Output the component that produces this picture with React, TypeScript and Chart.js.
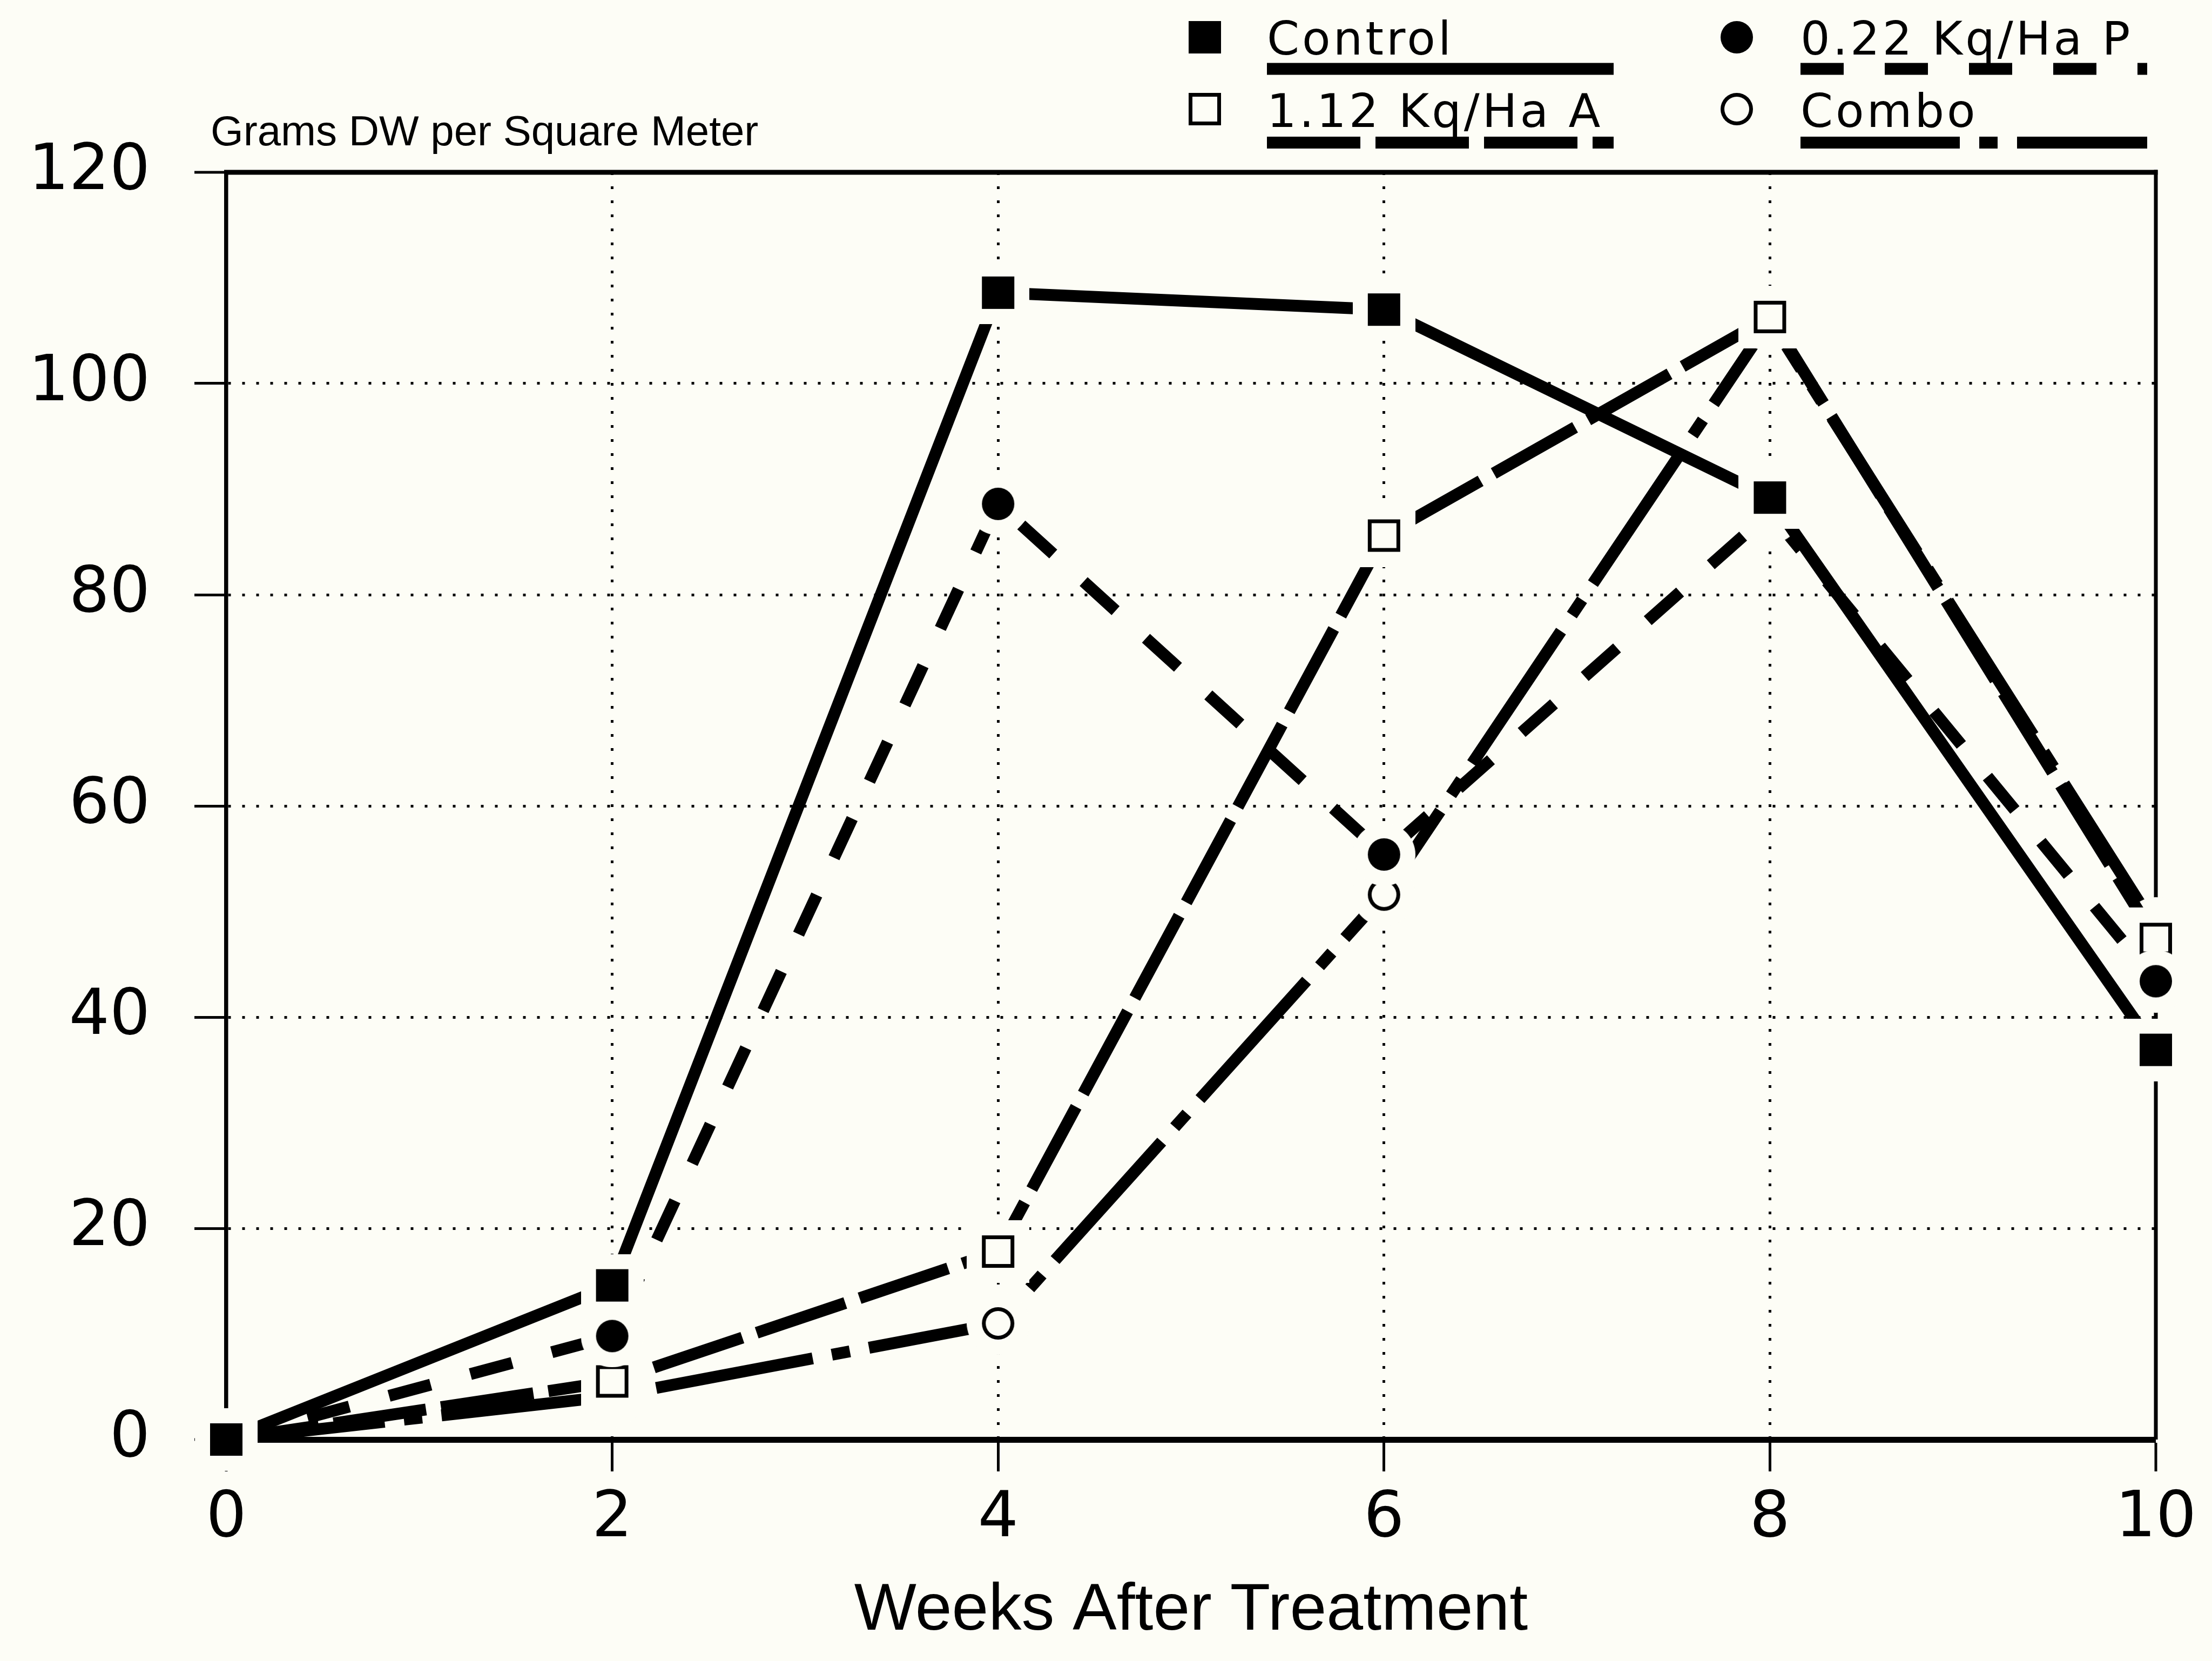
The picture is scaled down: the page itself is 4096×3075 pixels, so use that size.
import { useEffect, useRef } from 'react';
import { Chart, registerables } from 'chart.js';

Chart.register(...registerables);

// ---- data -------------------------------------------------------------
const weeks = [0, 2, 4, 6, 8, 10];
const controlValues = [0, 14.6, 108.6, 107.0, 89.2, 36.9];
const rateP022Values = [0, 9.8, 88.6, 55.4, 87.8, 43.4];
const rateA112Values = [0, 5.5, 17.8, 85.6, 106.3, 47.4];
const comboValues = [0, 4.1, 11.0, 51.6, 106.0, 48.4];
const seriesLabels = ['Control', '0.22 Kq/Ha P', '1.12 Kq/Ha A', 'Combo'];
const xTickValues = [0, 2, 4, 6, 8, 10];
const yTickValues = [0, 20, 40, 60, 80, 100, 120];
const xTitle = 'Weeks After Treatment';
const yTitle = 'Grams DW per Square Meter';

// ---- look -------------------------------------------------------------
const W = 4096;
const H = 3075;
const PAPER = '#fdfdf6';
const INK = '#000000';
const AREA = { left: 419, top: 319, right: 3992, bottom: 2665 };
const LINE_W = 22;
const MARK = 60; // marker body size
const HALO = 28; // paper-coloured clearance round each marker
const RING = 7; // outline thickness of hollow markers

type MarkKind = 'square' | 'circle';
const seriesMarks: { kind: MarkKind; filled: boolean }[] = [
  { kind: 'square', filled: true },
  { kind: 'circle', filled: true },
  { kind: 'square', filled: false },
  { kind: 'circle', filled: false },
];
const seriesDash: number[][] = [[], [80, 76], [173, 28], [295, 36, 34, 36]];

// legend block geometry
const legendMarkX = [2231, 3216];
const legendTextX = [2346, 3334];
const legendLineEnd = [2988, 3976];
const legendMarkY = [69, 202];
const legendTextY = [101, 235];
const legendLineY = [127.5, 264];

function makeMarker(kind: MarkKind, filled: boolean): HTMLCanvasElement {
  const size = MARK + 2 * HALO;
  const c = document.createElement('canvas');
  c.width = size;
  c.height = size;
  const g = c.getContext('2d')!;
  const m = size / 2;
  g.fillStyle = PAPER;
  if (kind === 'square') {
    g.fillRect(0, 0, size, size);
    g.fillStyle = INK;
    g.fillRect(m - MARK / 2, m - MARK / 2, MARK, MARK);
    if (!filled) {
      g.fillStyle = PAPER;
      g.fillRect(m - MARK / 2 + RING, m - MARK / 2 + RING, MARK - 2 * RING, MARK - 2 * RING);
    }
  } else {
    g.beginPath();
    g.arc(m, m, size / 2, 0, Math.PI * 2);
    g.fill();
    g.fillStyle = INK;
    g.beginPath();
    g.arc(m, m, MARK / 2, 0, Math.PI * 2);
    g.fill();
    if (!filled) {
      g.fillStyle = PAPER;
      g.beginPath();
      g.arc(m, m, MARK / 2 - RING, 0, Math.PI * 2);
      g.fill();
    }
  }
  return c;
}

const edgeX = (v: number) => v === xTickValues[0] || v === xTickValues[xTickValues.length - 1];
const edgeY = (v: number) => v === yTickValues[0] || v === yTickValues[yTickValues.length - 1];

export default function App() {
  const ref = useRef<HTMLCanvasElement>(null);

  useEffect(() => {
    document.body.style.margin = '0';
    const canvas = ref.current;
    if (!canvas) return;

    const markImages = seriesMarks.map((s) => makeMarker(s.kind, s.filled));
    const seriesValues = [controlValues, rateP022Values, rateA112Values, comboValues];

    const paperPlugin = {
      id: 'paper',
      beforeDraw(chart: any) {
        const c = chart.ctx;
        c.save();
        c.fillStyle = PAPER;
        c.fillRect(0, 0, chart.width, chart.height);
        c.restore();
      },
    };

    // top and right sides of the plot frame
    const framePlugin = {
      id: 'frame',
      beforeDatasetsDraw(chart: any) {
        const { left, top, right, bottom } = chart.chartArea;
        const c = chart.ctx;
        c.save();
        c.strokeStyle = INK;
        c.lineWidth = 9;
        c.beginPath();
        c.moveTo(left - 4, top);
        c.lineTo(right + 3.5, top);
        c.stroke();
        c.lineWidth = 7;
        c.beginPath();
        c.moveTo(right, top - 4.5);
        c.lineTo(right, bottom);
        c.stroke();
        c.restore();
      },
    };

    // y-axis caption and the two-column key
    const keyPlugin = {
      id: 'key',
      afterDraw(chart: any) {
        const c = chart.ctx;
        c.save();
        c.fillStyle = INK;
        c.textAlign = 'left';
        c.textBaseline = 'alphabetic';
        c.font = '78px "Liberation Sans"';
        c.fillText(yTitle, 390, 269);

        seriesLabels.forEach((label, i) => {
          const col = i % 2;
          const row = Math.floor(i / 2);
          const img = markImages[i];
          c.drawImage(img, legendMarkX[col] - img.width / 2, legendMarkY[row] - img.height / 2);
          c.font = '86px "DejaVu Sans"';
          (c as any).letterSpacing = '5px';
          c.fillStyle = INK;
          c.fillText(label, legendTextX[col], legendTextY[row]);
          (c as any).letterSpacing = '0px';
          c.strokeStyle = INK;
          c.lineWidth = LINE_W;
          c.lineCap = 'butt';
          c.setLineDash(seriesDash[i]);
          c.beginPath();
          c.moveTo(legendTextX[col], legendLineY[row]);
          c.lineTo(legendLineEnd[col], legendLineY[row]);
          c.stroke();
          c.setLineDash([]);
        });
        c.restore();
      },
    };

    const chart = new Chart(canvas, {
      type: 'line',
      data: {
        datasets: seriesLabels.map((label, i) => ({
          label,
          data: weeks.map((w, k) => ({ x: w, y: seriesValues[i][k] })),
          borderColor: INK,
          borderWidth: LINE_W,
          borderDash: seriesDash[i],
          borderCapStyle: 'butt',
          borderJoinStyle: 'miter',
          fill: false,
          tension: 0,
          pointStyle: markImages[i],
          pointRadius: MARK / 2,
          pointBorderWidth: 0,
          pointHoverRadius: MARK / 2,
          clip: false,
        })),
      },
      options: {
        animation: false,
        responsive: false,
        devicePixelRatio: 1,
        events: [],
        layout: { padding: { left: 0, top: AREA.top, right: W - AREA.right, bottom: 0 } },
        plugins: {
          legend: { display: false },
          tooltip: { enabled: false },
          title: { display: false },
        },
        scales: {
          x: {
            type: 'linear',
            position: 'bottom',
            min: xTickValues[0],
            max: xTickValues[xTickValues.length - 1],
            afterBuildTicks: (axis: any) => {
              axis.ticks = xTickValues.map((v) => ({ value: v }));
            },
            afterFit: (axis: any) => {
              axis.height = H - AREA.bottom;
            },
            grid: {
              color: INK,
              lineWidth: (ctx: any) => (ctx.tick && edgeX(ctx.tick.value) ? 0 : 5),
              drawTicks: true,
              tickLength: 59,
              tickWidth: 5,
              tickColor: INK,
            },
            border: { display: true, color: INK, width: 11, dash: [5, 21] },
            ticks: {
              color: INK,
              font: { family: '"DejaVu Sans"', size: 118 },
              padding: 19,
              autoSkip: false,
              maxRotation: 0,
              minRotation: 0,
            },
            title: {
              display: true,
              text: xTitle,
              color: INK,
              font: { family: '"Liberation Sans"', size: 122 },
              padding: { top: 0, bottom: 18 },
            },
          },
          y: {
            type: 'linear',
            position: 'left',
            min: yTickValues[0],
            max: yTickValues[yTickValues.length - 1],
            afterBuildTicks: (axis: any) => {
              axis.ticks = yTickValues.map((v) => ({ value: v }));
            },
            afterFit: (axis: any) => {
              axis.width = AREA.left;
            },
            grid: {
              color: INK,
              lineWidth: (ctx: any) => (ctx.tick && edgeY(ctx.tick.value) ? 0 : 5),
              drawTicks: true,
              tickLength: 59,
              tickWidth: 5,
              tickColor: INK,
            },
            border: { display: true, color: INK, width: 7.5, dash: [5, 21] },
            ticks: {
              color: INK,
              font: { family: '"DejaVu Sans"', size: 118 },
              padding: 82,
              autoSkip: false,
            },
          },
        },
      },
      plugins: [paperPlugin, framePlugin, keyPlugin],
    } as any);

    return () => chart.destroy();
  }, []);

  return (
    <div style={{ position: 'absolute', left: 0, top: 0, width: W, height: H, background: PAPER }}>
      <canvas ref={ref} width={W} height={H} style={{ display: 'block', width: W, height: H }} />
    </div>
  );
}
